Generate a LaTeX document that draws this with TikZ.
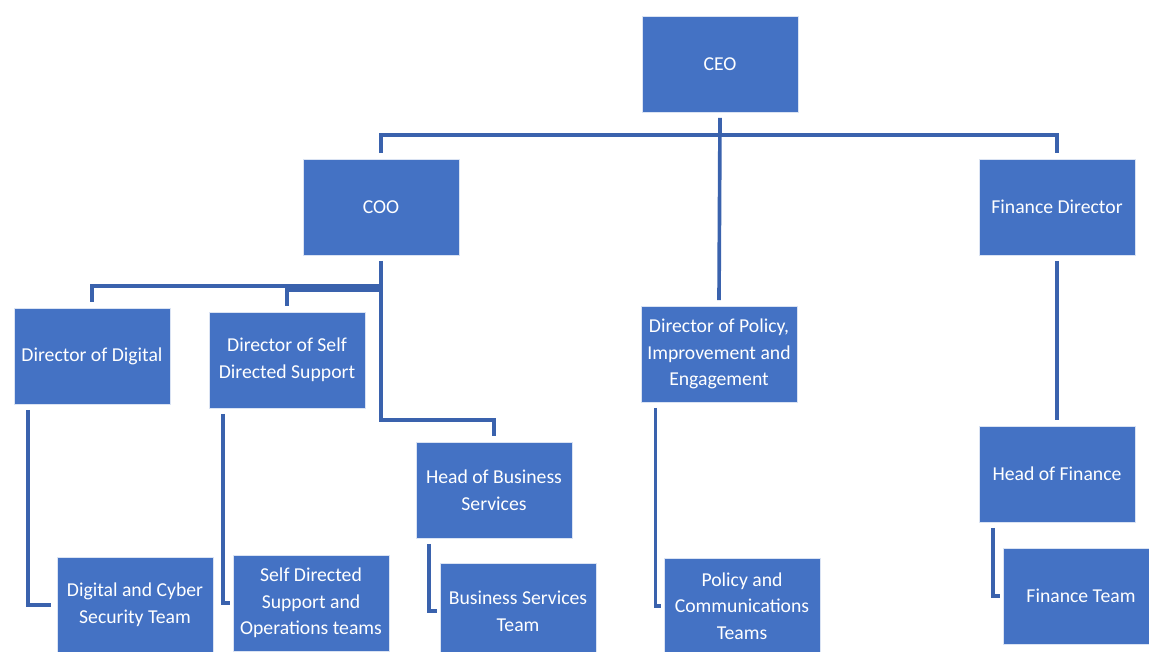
\documentclass[tikz,border=0pt]{standalone}
\usepackage{fontspec}
\setmainfont{Carlito}
\usepackage{tikz}
\usetikzlibrary{positioning}

\definecolor{boxblue}{HTML}{4472C4}
\definecolor{lineblue}{HTML}{3A62AD}

\begin{document}
\begin{tikzpicture}[
    x=0.025cm, y=-0.025cm,
    every node/.append style = {font=\fontsize{14}{19}\selectfont},
    post/.style = {rectangle, fill=boxblue, draw=white!80!boxblue, line width=0.4pt,
      text=white, align=center, inner sep=0pt,
      minimum width=3.9cm, minimum height=2.4cm},
    conn/.style = {draw=lineblue, line width=2.6pt}
  ]
 \useasboundingbox (0,0) rectangle (1149,651);
 \begin{scope}[shift={(0,0)}]
   % top level
   \node[post] (ceo) at (720,64) {CEO};
   \node[post] (coo) at (381,207) {COO};
   \node[post] (findir) at (1057,207) {Finance Director};

   % directors and heads
   \node[post] (dirdig) at (92,356) {Director of Digital};
   \node[post] (dirself) at (287,360) {Director of Self\\Directed Support};
   \node[post] (dirpol) at (719,354) {Director of Policy,\\Improvement and\\Engagement};
   \node[post] (headbus) at (494,490) {Head of Business\\Services};
   \node[post] (headfin) at (1057,474) {Head of Finance};

   % teams
   \node[post] (digteam) at (135,605) {Digital and Cyber\\Security Team};
   \node[post] (selfteam) at (311,603) {Self Directed\\Support and\\Operations teams};
   \node[post] (busteam) at (518,611) {Business Services\\Team};
   \node[post] (polteam) at (742,606) {Policy and\\Communications\\Teams};
   \node[post] (finteam) at (1081,596) {Finance Team};

   % bus joints
   \coordinate (ceoBus) at (720,135);
   \coordinate (digBus) at (381,286);
   \coordinate (selfBus) at (381,290);
   \coordinate (cooBus) at (381,420);

   % CEO links
   \draw[conn] ([yshift=-4pt]ceo.south) -- ([yshift=4pt]dirpol.north);
   \draw[conn] ([yshift=4pt]coo.north) |- (ceoBus) -| ([yshift=4pt]findir.north);

   % COO links
   \draw[conn] ([yshift=-4pt]coo.south) -- (cooBus) -| ([yshift=4pt]headbus.north);
   \draw[conn] (digBus) -| ([yshift=4pt]dirdig.north);
   \draw[conn] (selfBus) -| ([yshift=4pt]dirself.north);

   % finance link
   \draw[conn] ([yshift=-4pt]findir.south) -- ([yshift=4pt]headfin.north);

   % team links
   \draw[conn] ([xshift=0.35cm,yshift=-4pt]dirdig.south west) |- ([xshift=-4pt]digteam.west);
   \draw[conn] ([xshift=0.35cm,yshift=-4pt]dirself.south west) |- ([xshift=-2pt]selfteam.west);
   \draw[conn] ([xshift=0.33cm,yshift=-4pt]headbus.south west) |- ([xshift=-2pt]busteam.west);
   \draw[conn] ([xshift=0.37cm,yshift=-4pt]dirpol.south west) |- ([xshift=-2pt]polteam.west);
   \draw[conn] ([xshift=0.35cm,yshift=-4pt]headfin.south west) |- ([xshift=-2pt]finteam.west);
 \end{scope}
\end{tikzpicture}
\end{document}
